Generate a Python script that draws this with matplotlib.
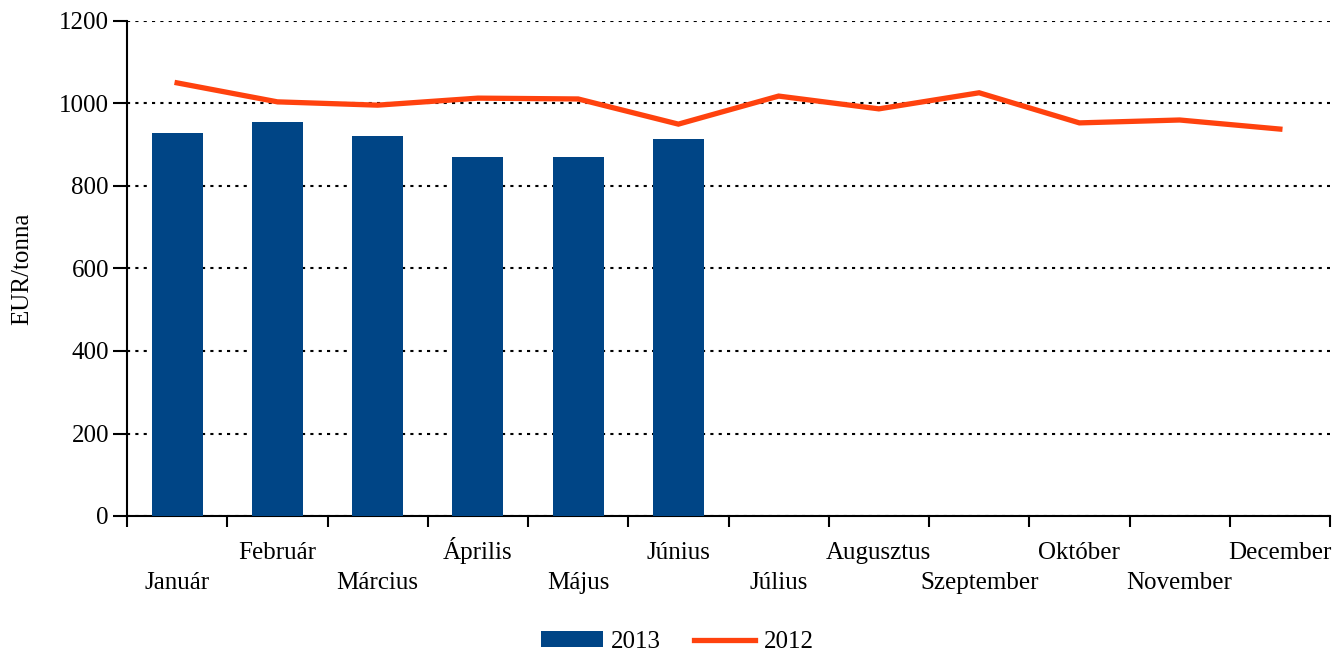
import matplotlib
matplotlib.use("Agg")
import matplotlib.pyplot as plt
import matplotlib.transforms as mtransforms
import numpy as np

months = ["Január", "Február", "Március", "Április", "Május", "Június",
          "Július", "Augusztus", "Szeptember", "Október", "November", "December"]
values_2013 = [929, 955, 921, 870, 870, 914]
values_2012 = [1050, 1004, 996, 1013, 1011, 950, 1018, 987, 1026, 953, 960, 938]

plt.rcParams['font.family'] = ['Liberation Serif', 'DejaVu Serif']
FS = 18

fig = plt.figure(figsize=(13.39, 6.55), dpi=100)
ax = fig.add_axes([127/1339, (655-516)/655, (1330-127)/1339, (516-21)/655])

x = np.arange(len(months))
bars = ax.bar(x[:len(values_2013)], values_2013, width=0.51, color='#004586', label='2013', zorder=3)
line, = ax.plot(x, values_2012, color='#FF420E', linewidth=3.8, label='2012', zorder=4,
                solid_joinstyle='miter')

ax.set_xlim(-0.5, 11.5)
ax.set_ylim(0, 1200)
ax.set_yticks(np.arange(0, 1201, 200))
ax.tick_params(axis='y', labelsize=FS, length=10, width=1.5, direction='out', pad=3)
ax.yaxis.grid(True, linestyle=(0, (1.5, 2.5)), color='black', linewidth=1.5, zorder=0)

# month labels, staggered, placed with a baseline alignment
ax.set_xticks(x)
ax.set_xticklabels([])
ax.tick_params(axis='x', which='major', length=0)
trans = mtransforms.blended_transform_factory(ax.transData, ax.transAxes)
for i, m in enumerate(months):
    yy = -0.1475 if i % 2 == 0 else -0.0869
    ax.text(x[i], yy, m, transform=trans, ha='center', va='baseline', fontsize=FS)
ax.set_xticks(np.arange(-0.5, 12, 1), minor=True)
ax.tick_params(axis='x', which='minor', length=8, width=1.5, direction='out')

for s in ['top', 'right']:
    ax.spines[s].set_visible(False)
for s in ['left', 'bottom']:
    ax.spines[s].set_linewidth(1.5)

ax.set_ylabel("EUR/tonna", fontsize=FS)
ax.yaxis.set_label_coords(-0.078, 0.5)

fig.legend(handles=[bars, line], labels=['2013', '2012'], loc='center',
           bbox_to_anchor=(0.506, (655-642)/655), ncol=2, frameon=False,
           fontsize=FS, handlelength=2.45, handleheight=0.6,
           handletextpad=0.35, columnspacing=1.3)

fig.savefig("out.png", dpi=100)
